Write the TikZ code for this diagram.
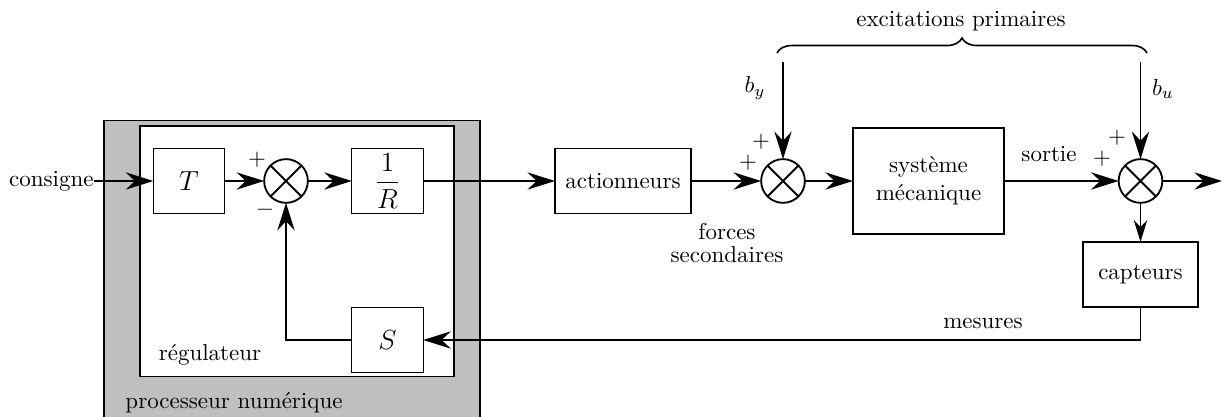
\documentclass[tikz,border=0pt]{standalone}
\usepackage{fontspec}
\usepackage{amsmath}
\usetikzlibrary{arrows.meta,decorations.pathreplacing}
\begin{document}
\begin{tikzpicture}[x=0.4348pt,y=-0.4348pt,
  blk/.style={draw, line width=0.5pt, inner sep=0pt, outer sep=0pt},
  smallblk/.style={blk, minimum width=31pt, minimum height=28.3pt},
  sum/.style={circle, draw, line width=0.8pt, minimum size=19pt, inner sep=0pt, outer sep=0pt,
    path picture={\draw[line width=0.8pt]
      (path picture bounding box.north west) -- (path picture bounding box.south east)
      (path picture bounding box.north east) -- (path picture bounding box.south west);}},
  tip/.style={-{Stealth[length=12pt,width=7.5pt,inset=4pt]}},
  sig/.style={line width=0.8pt, tip},
  txt/.style={inner sep=0pt},
]
\useasboundingbox (0,0) rectangle (1223,417);

% numeric processor and controller frames
\fill[gray!50] (104,120.5) rectangle (480,430);
\draw[line width=0.8pt] (104,430) -- (104,120.5) -- (480,120.5) -- (480,430);
\fill[white] (140,126) rectangle (454,376.5);
\draw[line width=0.8pt] (140,126) rectangle (454,376.5);

% blocks
\node[smallblk] (T) at (189,181) {\large $T$};
\node[sum] (s1) at (286,181) {};
\node[smallblk] (R) at (387.5,181) {\large $\dfrac{1}{R}$};
\node[smallblk] (S) at (387.5,340) {\large $S$};
\node[blk, minimum width=59.1pt, minimum height=28.3pt] (act) at (623,181) {actionneurs};
\node[sum] (s2) at (783,181) {};
\node[blk, minimum width=65.7pt, minimum height=46.1pt, align=center] (sys) at (928.5,181) {système\\mécanique};
\node[sum] (s3) at (1140.5,181) {};
\node[blk, minimum width=50pt, minimum height=28.3pt] (cap) at (1140.5,274.5) {capteurs};

\node[txt, anchor=east] (cons) at (94,181) {consigne};
\coordinate (out) at (1222,181);
\coordinate (by) at (783,62);
\coordinate (bu) at (1140.5,62);
\coordinate (brl) at (777,53);
\coordinate (brr) at (1147,53);

% signs
\node (p1) at (257,160) {$+$};
\node (m1) at (265,210) {$-$};
\node (p2a) at (761,142) {$+$};
\node (p2b) at (748,163) {$+$};
\node (p3a) at (1117,138) {$+$};
\node (p3b) at (1102,159) {$+$};

% labels
\node (reg) at (210,355) {régulateur};
\node (proc) at (234,403) {processeur numérique};
\node[align=center] (forces) at (727,243) {forces\\[-2pt]secondaires};
\node (mes) at (983,323) {mesures};
\node (sortie) at (1049,154) {sortie};
\node (exc) at (961,21) {excitations primaires};
\node (lby) at (755,88) {$b_y$};
\node (lbu) at (1163,89) {$b_u$};

% connections
\draw[sig] (cons) -- (T);
\draw[sig] (T) -- (s1);
\draw[sig] (s1) -- (R);
\draw[sig] (R) -- (act);
\draw[sig] (act) -- (s2);
\draw[sig] (s2) -- (sys);
\draw[sig, line width=1.2pt] (sys) -- (s3);
\draw[sig] (s3) -- (out);
\draw[line width=0.8pt, -{Stealth[length=9.5pt,width=5.8pt,inset=3pt]}] (s3) -- (cap);
\draw[sig] (cap.south) |- (S.east);
\draw[sig] (S.west) -| (s1.south);
\draw[sig, line width=0.6pt] (by) -- (s2);
\draw[sig, line width=0.6pt] (bu) -- (s3);
\draw[decorate, decoration={brace, amplitude=6.5pt}, line width=0.7pt] (brl) -- (brr);
\end{tikzpicture}
\end{document}
